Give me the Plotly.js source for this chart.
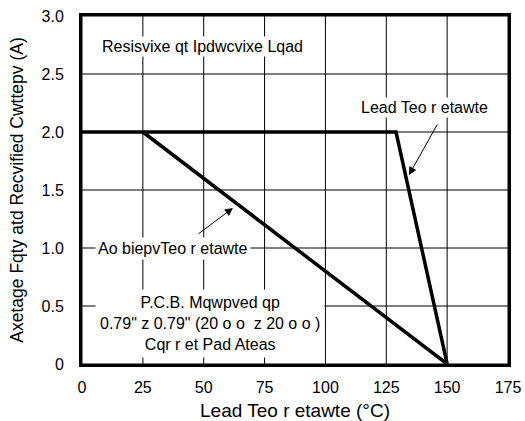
<!DOCTYPE html>
<html>
<head>
<meta charset="utf-8">
<script src="https://cdn.plot.ly/plotly-3.0.1.min.js"></script>
<style>html,body{margin:0;padding:0;background:#fff;}#chart{width:525px;height:421px;}</style>
</head>
<body>
<div id="chart"></div>
<script>
// Data
const leadX = [0, 129, 150];
const leadY = [2.0, 2.0, 0];
const ambientX = [25, 150];
const ambientY = [2.0, 0];
const xTickVals = [0, 25, 50, 75, 100, 125, 150, 175];
const xTickText = ["0", "25", "50", "75", "100", "125", "150", "175"];
const yTickVals = [0, 0.5, 1.0, 1.5, 2.0, 2.5, 3.0];
const yTickText = ["0", "0.5", "1.0", "1.5", "2.0", "2.5", "3.0"];
const xTitle = "Lead Teo r etawte (°C)";
const yTitle = "Axetage Fqty atd Recvified Cwttepv (A)";
const noteLoad = "Resisvixe qt Ipdwcvixe Lqad";
const noteLead = "Lead Teo r etawte";
const noteAmbient = "Ao biepvTeo r etawte";
const notePcb = ["P.C.B. Mqwpved qp", "0.79\" z 0.79\" (20 o o  z 20 o o )", "Cqr r et Pad Ateas"];

const FONT = "Liberation Sans, Arial, Helvetica, sans-serif";

const xMin = xTickVals[0], xMax = xTickVals[xTickVals.length - 1];
const yMin = yTickVals[0], yMax = yTickVals[yTickVals.length - 1];

// grid lines: one thin trace per tick, built from the tick arrays
const gridTraces = [];
xTickVals.forEach(v => gridTraces.push({x: [v, v], y: [yMin, yMax], mode: "lines", line: {color: "#000", width: 1}, hoverinfo: "skip", showlegend: false}));
yTickVals.forEach(v => gridTraces.push({x: [xMin, xMax], y: [v, v], mode: "lines", line: {color: "#000", width: 1}, hoverinfo: "skip", showlegend: false}));

const traces = gridTraces.concat([
  {x: leadX, y: leadY, mode: "lines", line: {color: "#000", width: 3.5}, hoverinfo: "skip", showlegend: false},
  {x: ambientX, y: ambientY, mode: "lines", line: {color: "#000", width: 3.5}, hoverinfo: "skip", showlegend: false}
]);

const annFont = {family: FONT, size: 16, color: "#000"};
const annotations = [
  {x: 49.3, y: 2.733, xref: "x", yref: "y", text: noteLoad, showarrow: false, font: annFont, bgcolor: "#fff", borderpad: 1},
  {x: 140.9, y: 2.207, xref: "x", yref: "y", text: noteLead, showarrow: false, font: annFont, bgcolor: "#fff", borderpad: 1},
  {x: 37.4, y: 1.0, xref: "x", yref: "y", text: noteAmbient, showarrow: false, font: annFont, bgcolor: "#fff", borderpad: 2},
  {x: 52.6, y: 0.345, xref: "x", yref: "y", text: notePcb.join("<br>"), showarrow: false, font: annFont, bgcolor: "#fff", borderpad: 4},
  {x: 134.3, y: 1.629, ax: 146.3, ay: 2.078, xref: "x", yref: "y", axref: "x", ayref: "y", text: "", showarrow: true, arrowhead: 2, arrowsize: 1.6, arrowwidth: 1, arrowcolor: "#000", standoff: 0},
  {x: 62.0, y: 1.345, ax: 47.2, ay: 1.112, xref: "x", yref: "y", axref: "x", ayref: "y", text: "", showarrow: true, arrowhead: 2, arrowsize: 1.6, arrowwidth: 1, arrowcolor: "#000", standoff: 0}
];

const layout = {
  width: 525, height: 421,
  margin: {l: 82, r: 17, t: 16, b: 57},
  paper_bgcolor: "#fff", plot_bgcolor: "#fff",
  font: {family: FONT, size: 16, color: "#000"},
  showlegend: false,
  xaxis: {
    range: [xMin, xMax], tickmode: "array", tickvals: xTickVals, ticktext: xTickText,
    ticks: "outside", ticklen: 7, tickcolor: "rgba(0,0,0,0)",
    showgrid: false, zeroline: false,
    showline: true, linecolor: "#000", linewidth: 3, mirror: true,
    tickfont: {family: FONT, size: 16, color: "#000"},
    title: {text: xTitle, font: {family: FONT, size: 19, color: "#000"}, standoff: 13},
    fixedrange: true
  },
  yaxis: {
    range: [yMin, yMax], tickmode: "array", tickvals: yTickVals, ticktext: yTickText,
    ticks: "outside", ticklen: 12, tickcolor: "rgba(0,0,0,0)",
    showgrid: false, zeroline: false,
    showline: true, linecolor: "#000", linewidth: 3, mirror: true,
    tickfont: {family: FONT, size: 16, color: "#000"},
    title: {text: yTitle, font: {family: FONT, size: 17.5, color: "#000"}, standoff: 14},
    fixedrange: true
  },
  annotations: annotations
};

Plotly.newPlot("chart", traces, layout, {displayModeBar: false});
</script>
</body>
</html>
